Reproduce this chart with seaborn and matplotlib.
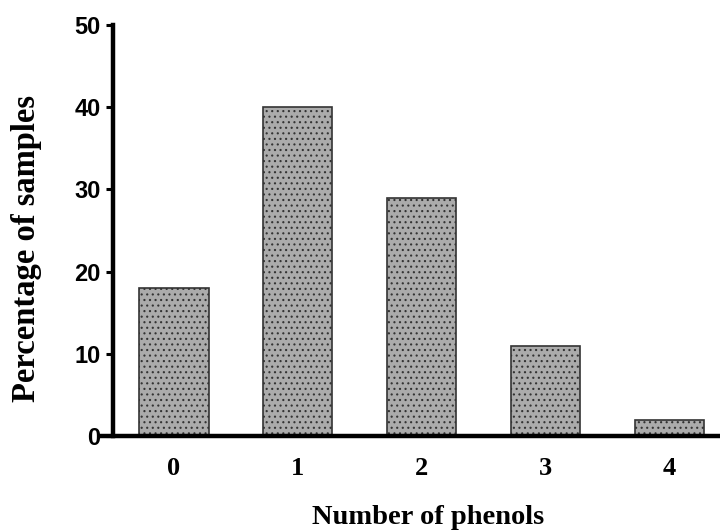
import matplotlib
matplotlib.use('Agg')
import matplotlib.pyplot as plt
import seaborn as sns
import pandas as pd

# Data
phenols = ['0', '1', '2', '3', '4']
percent = [18, 40, 29, 11, 2]

sns.set_style('white')
plt.rcParams['hatch.color'] = 'black'
plt.rcParams['hatch.linewidth'] = 0.8
plt.rcParams['text.color'] = 'black'
plt.rcParams['xtick.color'] = 'black'
plt.rcParams['ytick.color'] = 'black'

df = pd.DataFrame({'phenols': phenols, 'percent': percent})

fig = plt.figure(figsize=(7.2, 5.3), dpi=100)
ax = fig.add_axes([0.1417, 0.177, 0.855, 0.776])

sns.barplot(data=df, x='phenols', y='percent', color='#ababab', saturation=1,
            width=0.56, edgecolor='#333333', linewidth=1.2, ax=ax)
for p in ax.patches:
    p.set_hatch('...')

ax.set_xlim(-0.58, 4.39)
ax.set_ylim(0, 50)
ax.set_yticks([0, 10, 20, 30, 40, 50])

for side in ['top', 'right']:
    ax.spines[side].set_visible(False)
ax.spines['left'].set_position(('data', -0.49))
ax.spines['left'].set_bounds(0, 50)
for side in ['left', 'bottom']:
    ax.spines[side].set_linewidth(3.2)
    ax.spines[side].set_color('black')
    ax.spines[side].set_capstyle('projecting')

ax.tick_params(axis='y', left=True, direction='out', length=5, width=2.2,
               color='black', labelcolor='black', pad=4)
ax.tick_params(axis='x', bottom=False, length=0, pad=15, labelcolor='black')

for lab in ax.get_yticklabels():
    lab.set_family('Liberation Sans')
    lab.set_fontweight('bold')
    lab.set_fontsize(17)
for lab in ax.get_xticklabels():
    lab.set_family('Liberation Serif')
    lab.set_fontweight('bold')
    lab.set_fontsize(19)

ax.set_xlabel('Number of phenols', family='Liberation Serif', fontweight='bold',
              fontsize=20.5, color='black')
ax.set_ylabel('Percentage of samples', family='Liberation Serif', fontweight='bold',
              fontsize=23.5, color='black')
ax.xaxis.set_label_coords(0.529, -0.168)
ax.yaxis.set_label_coords(-0.098, 0.456)

fig.savefig('out.png', dpi=100)
